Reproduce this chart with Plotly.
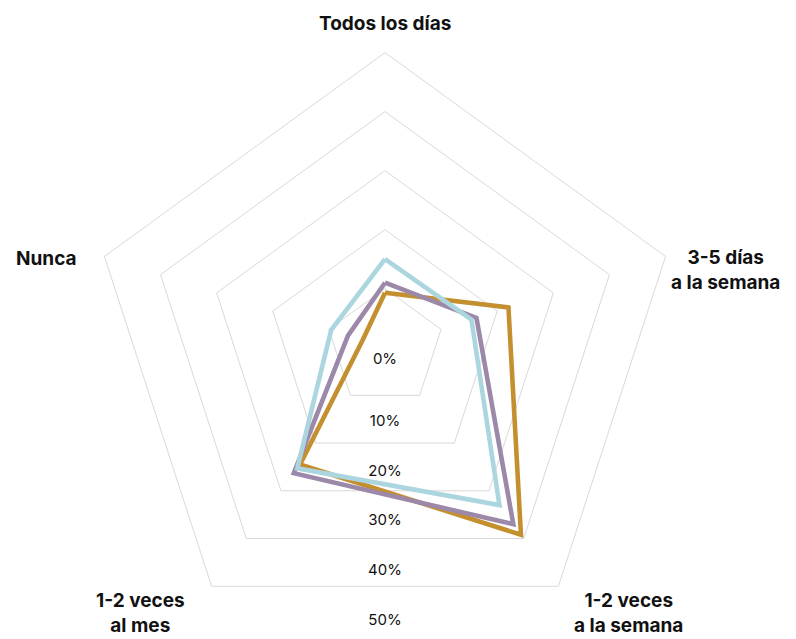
import plotly.graph_objects as go

categories = ["Todos los días", "3-5 días a la semana", "1-2 veces a la semana",
              "1-2 veces al mes", "Nunca"]
category_labels = ["Todos los días", "3-5 días<br>a la semana", "1-2 veces<br>a la semana",
                   "1-2 veces<br>al mes", "Nunca"]
serie_oro = [9.3, 22.0, 39.2, 24.5, 4.0]
serie_lila = [11.0, 16.3, 37.0, 26.3, 6.6]
serie_celeste = [15.0, 15.4, 33.0, 25.3, 9.6]
tick_vals = [0, 10, 20, 30, 40, 50]
tick_text = ["0%", "10%", "20%", "30%", "40%", "50%"]

GRID = "#d9d9d9"
FONT = "Inter"
BODY = 8  # default page margin of the html body

fig = go.Figure()


def closed(v):
    return v + v[:1]


for vals, col, name in [(serie_oro, "#c4902f", "Serie 1"),
                        (serie_lila, "#9c89a9", "Serie 2"),
                        (serie_celeste, "#acd6df", "Serie 3")]:
    fig.add_trace(go.Scatterpolar(
        r=closed(vals), theta=closed(categories), mode="lines",
        line=dict(color=col, width=4.6), name=name, hoverinfo="skip",
        subplot="polar"))

# radial tick labels along the downward direction, just below each grid edge
lab_r = [0.845 * t + 4.15 if t else 2.1 for t in tick_vals]
fig.add_trace(go.Scatterpolar(
    r=lab_r, theta=[180] * len(tick_vals), mode="text", text=tick_text,
    textposition="middle center", textfont=dict(family=FONT, size=15, color="#111"),
    hoverinfo="skip", subplot="polar2", cliponaxis=False))

W, H = 796 - BODY, 700
cx, cy, R = 385 - BODY, 347.6 - BODY, 295
xdom = [(cx - R) / W, (cx + R) / W]
ydom = [(H - cy - R) / H, (H - cy + R) / H]

# category label placement on the page (pixel centres)
label_pos = [(384.5, 23), (725, 269.5), (628.5, 613), (140, 613), (46.5, 258)]
annotations = []
for txt, (px, py) in zip(category_labels, label_pos):
    annotations.append(dict(
        text=txt, x=(px - BODY) / W, y=1 - (py - BODY) / H, xref="paper", yref="paper",
        xanchor="center", yanchor="middle", align="center", showarrow=False,
        font=dict(family=FONT, size=19, color="#111", weight="bold")))

fig.update_layout(
    width=W, height=H, margin=dict(l=0, r=0, t=0, b=0),
    paper_bgcolor="white", showlegend=False,
    font=dict(family=FONT, color="#111"),
    annotations=annotations,
    polar=dict(
        domain=dict(x=xdom, y=ydom), gridshape="linear", bgcolor="rgba(0,0,0,0)",
        radialaxis=dict(range=[0, 50], tickvals=tick_vals[1:], showticklabels=False,
                        ticks="", showline=False, gridcolor=GRID, gridwidth=1),
        angularaxis=dict(rotation=90, direction="clockwise", showgrid=False,
                         showline=True, linecolor=GRID, linewidth=1, ticks="",
                         showticklabels=False),
    ),
    polar2=dict(
        domain=dict(x=xdom, y=ydom), bgcolor="rgba(0,0,0,0)",
        radialaxis=dict(range=[0, 50], visible=False),
        angularaxis=dict(rotation=90, direction="clockwise", visible=False),
    ),
)

fig.write_html("out.html", config=dict(displayModeBar=False))
